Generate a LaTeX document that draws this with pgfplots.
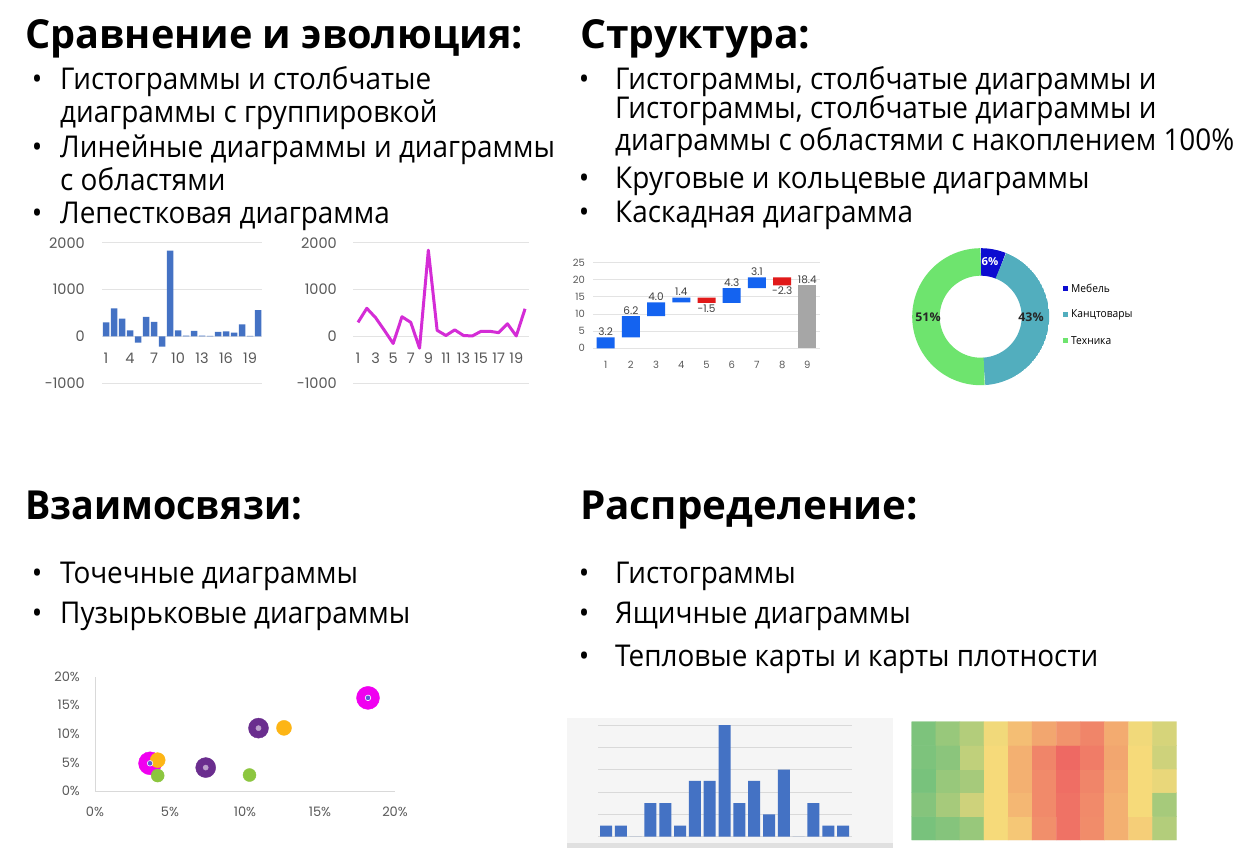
\documentclass[border=0pt]{standalone}
\usepackage{fontspec}
\usepackage{graphicx}
\setmainfont{Open Sans}
\newfontfamily\bodyfont{Open Sans}[FakeStretch=0.93]
\newfontfamily\headfont{Open Sans}[FakeStretch=1.03]
\newfontfamily\numfont{Poppins}
\usepackage{pgfplots}
\pgfplotsset{compat=1.18}
\usepgfplotslibrary{polar}

\definecolor{barblue}{HTML}{4472C4}
\definecolor{lmag}{HTML}{D42CD6}
\definecolor{wfblue}{HTML}{1463F0}
\definecolor{wfred}{HTML}{E11A1A}
\definecolor{wfgray}{HTML}{A6A6A6}
\definecolor{dblue}{HTML}{0C0CD0}
\definecolor{dteal}{HTML}{52AEBE}
\definecolor{dgreen}{HTML}{6EE46E}
\definecolor{bmag}{HTML}{F000F0}
\definecolor{bpur}{HTML}{6A2D8E}
\definecolor{bora}{HTML}{FDB515}
\definecolor{bgrn}{HTML}{8CC63F}
\definecolor{bdot}{HTML}{5A5AD6}
\definecolor{tickgray}{HTML}{595959}
\definecolor{gridgray}{HTML}{E3E3E3}
\definecolor{panel}{HTML}{F5F5F5}

\pgfplotsset{
  mini/.style={scale only axis, axis line style={draw=none}, tick style={draw=none},
    ymajorgrids, grid style={gridgray, line width=0.9pt},
    /pgf/number format/assume math mode=true, /pgf/number format/1000 sep={},
    ticklabel style={text=tickgray, inner sep=0pt}},
}

% heading: x, baseline y, horizontal squeeze, text
\newcommand\hd[4]{\node[anchor=base west, inner sep=0pt] at (#1pt,-#2pt) {\scalebox{#3}[1]{\headfont\bfseries\fontsize{40}{42}\selectfont #4}};}
\newcommand\bline[3]{\node[anchor=base west, inner sep=0pt] at (#1pt,-#2pt) {\bodyfont\fontsize{30}{34}\selectfont #3};}
\newcommand\bdot[2]{\node[anchor=base, inner sep=0pt] at (#1pt,-#2pt) {\bodyfont\fontsize{30}{34}\selectfont •};}

\begin{document}
\begin{tikzpicture}
\fill[white] (0,0) rectangle (1238pt,-848pt);

% ---- text ----
\hd{25}{49}{0.962}{Сравнение и эволюция:}
\bdot{37}{90}\bline{60}{90}{Гистограммы и столбчатые}
\bline{60}{122}{диаграммы с группировкой}
\bdot{37}{157}\bline{60}{157}{Линейные диаграммы и диаграммы}
\bline{60}{190}{с областями}
\bdot{37}{223}\bline{60}{223}{Лепестковая диаграмма}

\hd{580}{49}{0.99}{Структура:}
\bdot{584}{90}\bline{615}{90}{Гистограммы, столбчатые диаграммы и}
\bline{615}{118}{Гистограммы, столбчатые диаграммы и}
\bline{615}{150}{диаграммы с областями с накоплением 100\%}
\bdot{584}{188}\bline{615}{188}{Круговые и кольцевые диаграммы}
\bdot{584}{222}\bline{615}{222}{Каскадная диаграмма}

\hd{25}{519}{0.915}{Взаимосвязи:}
\bdot{37}{583}\bline{60}{583}{Точечные диаграммы}
\bdot{37}{623}\bline{60}{623}{Пузырьковые диаграммы}

\hd{580}{519}{0.98}{Распределение:}
\bdot{584}{583}\bline{615}{583}{Гистограммы}
\bdot{584}{623}\bline{615}{623}{Ящичные диаграммы}
\bdot{584}{666}\bline{615}{666}{Тепловые карты и карты плотности}

% ---- bar chart ----
\begin{axis}[mini, at={(102pt,-383.3pt)}, anchor=south west,
  width=160pt, height=140.6pt, xmin=0.5, xmax=20.5, ymin=-1000, ymax=2000,
  ytick={-1000,0,1000,2000}, xtick={1,4,...,19},
  ticklabel style={font=\numfont\fontsize{14.5}{15}\selectfont},
  xticklabel style={anchor=center, yshift=25.3pt},
  yticklabel style={anchor=east, xshift=-17pt}]
\addplot[ybar, bar width=6.5pt, fill=barblue, draw=none] coordinates {
 (1,300) (2,600) (3,380) (4,130) (5,-130) (6,420) (7,310) (8,-220) (9,1830) (10,130)
 (11,20) (12,120) (13,20) (14,10) (15,100) (16,110) (17,80) (18,260) (19,10) (20,560)};
\end{axis}

% ---- line chart ----
\begin{axis}[mini, at={(353pt,-383.3pt)}, anchor=south west,
  width=176pt, height=140.6pt, xmin=0.43, xmax=20.45, ymin=-1000, ymax=2000,
  ytick={-1000,0,1000,2000}, xtick={1,3,...,19},
  ticklabel style={font=\numfont\fontsize{14.5}{15}\selectfont},
  xticklabel style={anchor=center, yshift=25.3pt},
  yticklabel style={anchor=east, xshift=-16pt}]
\addplot[lmag, line width=3pt, line join=round] coordinates {
 (1,300) (2,600) (3,400) (4,130) (5,-150) (6,420) (7,300) (8,-250) (9,1840) (10,130)
 (11,20) (12,140) (13,20) (14,10) (15,110) (16,110) (17,80) (18,270) (19,10) (20,590)};
\end{axis}

% ---- waterfall ----
\begin{axis}[mini, at={(593pt,-348.3pt)}, anchor=south west,
  width=227pt, height=85.6pt, xmin=0.5, xmax=9.5, ymin=0, ymax=25,
  ytick={0,5,...,25}, xtick={1,...,9}, ybar stacked, bar width=18pt,
  ticklabel style={font=\numfont\fontsize{10}{10}\selectfont},
  xticklabel style={anchor=center, yshift=-16.7pt},
  yticklabel style={anchor=east, xshift=-8pt}]
\addplot[fill=none, draw=none] coordinates {(1,0) (2,3.2) (3,9.4) (4,13.4) (5,13.3) (6,13.3) (7,17.6) (8,18.4) (9,0)};
\addplot[fill=wfblue, draw=none] coordinates {(1,3.2) (2,6.2) (3,4.0) (4,1.4) (5,0) (6,4.3) (7,3.1) (8,0) (9,0)};
\addplot[fill=wfred, draw=none] coordinates {(1,0) (2,0) (3,0) (4,0) (5,1.5) (6,0) (7,0) (8,2.3) (9,0)};
\addplot[fill=wfgray, draw=none] coordinates {(1,0) (2,0) (3,0) (4,0) (5,0) (6,0) (7,0) (8,0) (9,18.4)};
\end{axis}
\begin{axis}[scale only axis, hide axis, at={(593pt,-348.3pt)}, anchor=south west,
  width=227pt, height=85.6pt, xmin=0.5, xmax=9.5, ymin=0, ymax=25]
\addplot[only marks, mark=none, nodes near coords, point meta=explicit symbolic,
  nodes near coords style={font=\numfont\fontsize{10.5}{11}\selectfont, text=black!75, anchor=south, inner sep=1.5pt}]
  coordinates {(1,3.2) [3.2] (2,9.4) [6.2] (3,13.4) [4.0] (4,14.8) [1.4] (6,17.6) [4.3] (7,20.7) [3.1] (9,18.4) [18.4]};
\addplot[only marks, mark=none, nodes near coords, point meta=explicit symbolic,
  nodes near coords style={font=\numfont\fontsize{10.5}{11}\selectfont, text=black!75, anchor=north, inner sep=1.5pt}]
  coordinates {(5,13.3) [-1.5] (8,18.4) [-2.3]};
\end{axis}

% ---- donut ----
\begin{polaraxis}[hide axis, scale only axis, width=137pt, height=137pt,
  at={(980.7pt,-316.7pt)}, anchor=origin, ymin=0, ymax=68.5]
\addplot[domain=68.4:90, samples=10, dblue, line width=27.5pt] {54.75};
\addplot[domain=-86.4:68.4, samples=60, dteal, line width=27.5pt] {54.75};
\addplot[domain=-270:-86.4, samples=70, dgreen, line width=27.5pt] {54.75};
\end{polaraxis}
\node[text=white, font=\headfont\bfseries\fontsize{11}{11}\selectfont] at (990pt,-262pt) {6\%};
\node[text=black!85, font=\headfont\bfseries\fontsize{12}{12}\selectfont] at (1031pt,-317pt) {43\%};
\node[text=black!85, font=\headfont\bfseries\fontsize{12}{12}\selectfont] at (928pt,-317pt) {51\%};
\fill[dblue] (1063pt,-286pt) rectangle ++(5pt,-5pt);
\fill[dteal] (1063pt,-312pt) rectangle ++(5pt,-5pt);
\fill[dgreen] (1063pt,-338pt) rectangle ++(5pt,-5pt);
\node[anchor=west, inner sep=0pt, font=\bodyfont\fontsize{11}{11}\selectfont] at (1071pt,-288.5pt) {Мебель};
\node[anchor=west, inner sep=0pt, font=\bodyfont\fontsize{11}{11}\selectfont] at (1071pt,-314.5pt) {Канцтовары};
\node[anchor=west, inner sep=0pt, font=\bodyfont\fontsize{11}{11}\selectfont] at (1071pt,-340.5pt) {Техника};

% ---- bubbles ----
\begin{axis}[scale only axis, at={(95pt,-791pt)}, anchor=south west,
  width=300pt, height=114.3pt, xmin=0, xmax=20, ymin=0, ymax=20,
  xtick={0,5,...,20}, ytick={0,5,...,20},
  axis x line*=bottom, axis y line*=left,
  axis line style={draw=black!15, line width=1pt}, tick style={draw=none},
  /pgf/number format/assume math mode=true,
  xticklabel={\pgfmathprintnumber{\tick}\%}, yticklabel={\pgfmathprintnumber{\tick}\%},
  ticklabel style={font=\numfont\fontsize{13}{13}\selectfont, text=tickgray, inner sep=0pt},
  xticklabel style={anchor=center, yshift=-21pt},
  yticklabel style={anchor=east, xshift=-15pt}]
\addplot[bmag, only marks, mark=*, mark size=11.5pt, mark options={fill=bmag, draw=none}] coordinates {(3.67,4.85) (18.2,16.3)};
\addplot[bpur, only marks, mark=*, mark size=10pt, mark options={fill=bpur, draw=none}] coordinates {(7.38,4.1) (10.9,11.0)};
\addplot[bora, only marks, mark=*, mark size=7.5pt, mark options={fill=bora, draw=none}] coordinates {(4.18,5.4) (12.6,11.05)};
\addplot[bgrn, only marks, mark=*, mark size=6.5pt, mark options={fill=bgrn, draw=none}] coordinates {(4.18,2.7) (10.3,2.8)};
\addplot[white, only marks, mark=*, mark size=2.8pt, mark options={fill=bdot, draw=white, line width=0.6pt}] coordinates {(3.67,4.85) (18.2,16.3)};
\addplot[bpur!45, only marks, mark=*, mark size=2.6pt, mark options={fill=bpur!45, draw=none}] coordinates {(7.38,4.1) (10.9,11.0)};
\end{axis}

% ---- histogram ----
\fill[panel] (567pt,-718pt) rectangle (893pt,-848pt);
\fill[black!12] (567pt,-843pt) rectangle (893pt,-848pt);
\begin{axis}[mini, at={(598pt,-836.7pt)}, anchor=south west,
  width=254pt, height=111.7pt, xmin=0.46, xmax=17.6, ymin=0, ymax=10,
  ytick={0,2,...,10}, yticklabels={}, xtick=\empty,
  grid style={black!15, line width=0.9pt}]
\addplot[ybar, bar width=12pt, fill=barblue, draw=none] coordinates {
 (1,1) (2,1) (3,0) (4,3) (5,3) (6,1) (7,5) (8,5) (9,10) (10,3) (11,5) (12,2)
 (13,6) (14,0) (15,3) (16,1) (17,1)};
\end{axis}

% ---- heatmap ----
\begin{axis}[scale only axis, hide axis, at={(911.7pt,-840pt)}, anchor=south west,
  width=265pt, height=118.3pt, xmin=0.5, xmax=11.5, ymin=0.5, ymax=5.5,
  colormap={heat}{rgb255=(112,192,124) rgb255=(246,218,122) rgb255=(238,100,98)},
  point meta min=0, point meta max=10]
\addplot[matrix plot*, mesh/cols=11, point meta=explicit] table[meta=c] {
x y c
1 1 0.3
2 1 0.8
3 1 1.5
4 1 5.0
5 1 5.8
6 1 8.2
7 1 9.4
8 1 8.3
9 1 6.8
10 1 5.5
11 1 2.5
1 2 0.8
2 2 2.0
3 2 3.5
4 2 5.0
5 2 6.5
6 2 8.4
7 2 9.4
8 2 8.4
9 2 6.8
10 2 5.0
11 2 2.0
1 3 0.3
2 3 1.5
3 3 2.0
4 3 5.0
5 3 6.8
6 3 8.4
7 3 9.6
8 3 8.6
9 3 7.0
10 3 5.0
11 3 4.5
1 4 0.5
2 4 1.0
3 4 3.0
4 4 5.0
5 4 6.8
6 4 8.6
7 4 9.8
8 4 9.0
9 4 7.2
10 4 5.0
11 4 3.5
1 5 0.5
2 5 1.5
3 5 2.5
4 5 4.8
5 5 6.2
6 5 7.2
7 5 8.0
8 5 8.6
9 5 7.0
10 5 4.8
11 5 3.8
};
\end{axis}
\end{tikzpicture}
\end{document}
